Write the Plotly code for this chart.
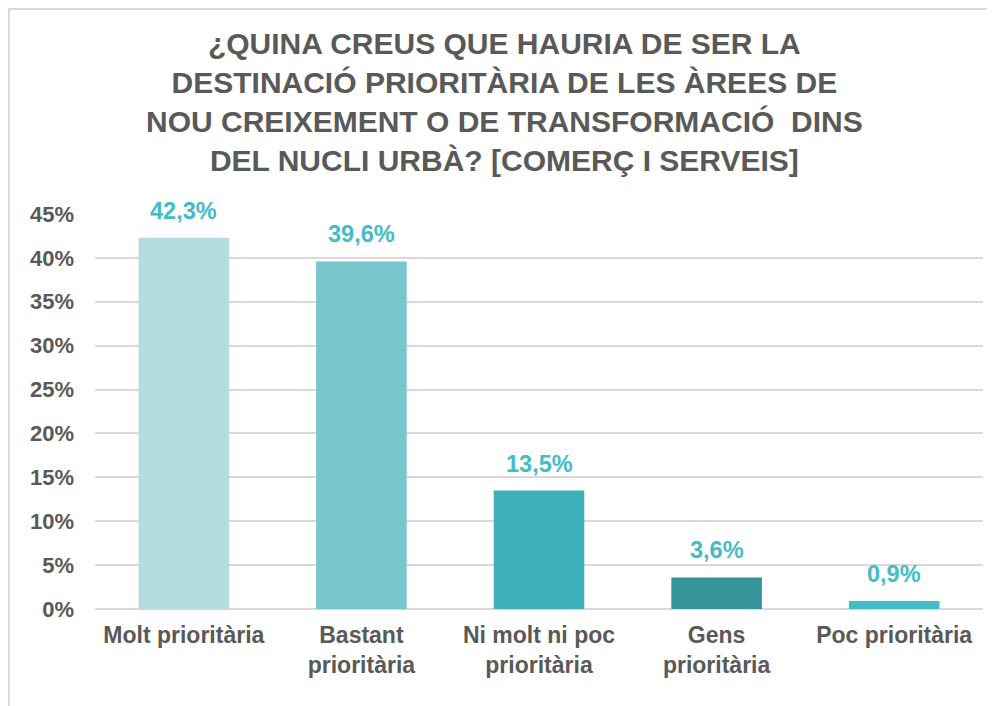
import plotly.graph_objects as go

categories = ["Molt prioritària", "Bastant<br>prioritària", "Ni molt ni poc<br>prioritària",
              "Gens<br>prioritària", "Poc prioritària"]
values = [42.3, 39.6, 13.5, 3.6, 0.9]
colors = ["#B4DCE1", "#79C6CC", "#40B0B8", "#35939A", "#43BCC6"]
tick_vals = [0, 5, 10, 15, 20, 25, 30, 35, 40, 45]
tick_text = [f"{v}%" for v in tick_vals]
labels = [f"{v:.1f}%".replace(".", ",") for v in values]

title_text = ("¿QUINA CREUS QUE HAURIA DE SER LA<br>DESTINACIÓ PRIORITÀRIA DE LES ÀREES DE<br>"
              "NOU CREIXEMENT O DE TRANSFORMACIÓ  DINS<br>DEL NUCLI URBÀ? [COMERÇ I SERVEIS]")

fig = go.Figure()
fig.add_trace(go.Bar(
    x=categories, y=values, marker=dict(color=colors, line=dict(width=0)),
    width=0.51, hoverinfo="skip",
))

for c, v, t in zip(categories, values, labels):
    fig.add_annotation(x=c, y=v, text=t, showarrow=False, yshift=27,
                       font=dict(family="Liberation Sans", size=23.5, color="#43BCC6", weight="bold"))

fig.add_annotation(text=title_text, xref="paper", yref="paper", x=0.4617, y=1.2835,
                   xanchor="center", yanchor="middle", showarrow=False, align="center",
                   font=dict(family="Liberation Sans", size=30, color="#595959", weight="bold"))

fig.update_layout(
    width=987, height=698,
    margin=dict(l=87, r=12, t=206, b=97),
    paper_bgcolor="white", plot_bgcolor="white",
    showlegend=False,
    xaxis=dict(tickfont=dict(family="Liberation Sans", size=23, color="#595959", weight="bold"),
               showline=False, ticks="", showgrid=False, ticklabelstandoff=10),
    yaxis=dict(range=[0, 45], tickvals=tick_vals, ticktext=tick_text,
               tickfont=dict(family="Liberation Sans", size=22, color="#595959", weight="bold"),
               showgrid=True, gridcolor="#D9D9D9", gridwidth=2, zeroline=True,
               zerolinecolor="#D9D9D9", zerolinewidth=2, ticks="", ticklabelstandoff=20),
    shapes=[dict(type="rect", xref="paper", yref="paper", x0=-0.0968, x1=1.1, y0=-0.4, y1=1.519,
                 line=dict(color="#D9D9D9", width=2), fillcolor="rgba(0,0,0,0)", layer="below")],
)

fig.write_html("out.html")
